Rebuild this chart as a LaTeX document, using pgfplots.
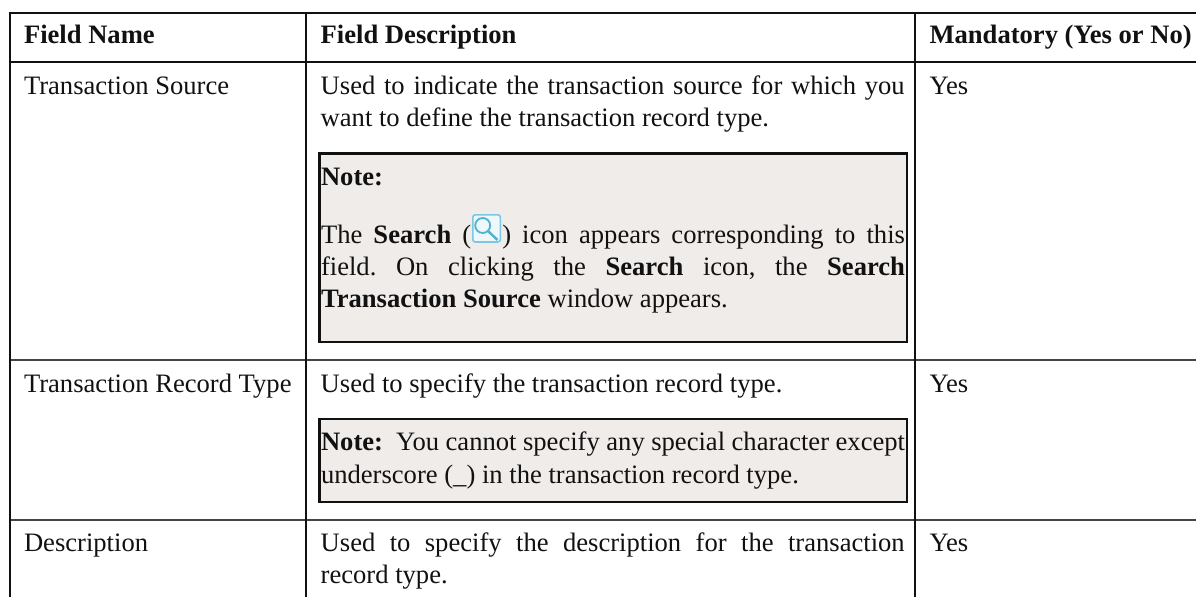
\documentclass[border=0pt]{standalone}
\usepackage{fontspec}
\setmainfont{Liberation Serif}
\usepackage{pgfplots}
\pgfplotsset{compat=1.18}
\definecolor{notebg}{HTML}{F0ECEA}
\definecolor{rule}{HTML}{111111}
\definecolor{rowrule}{HTML}{444444}
\definecolor{txt}{HTML}{111111}
\definecolor{iconb}{HTML}{7CC8E4}
\definecolor{iconf}{HTML}{EEF7FB}
\definecolor{iconm}{HTML}{4FB3D0}
\newcommand{\J}[1]{\makebox[584pt][s]{#1}}
\frenchspacing
\begin{document}
\begin{tikzpicture}
\path[use as bounding box] (0,0) rectangle (1196pt,597pt);
\begin{axis}[
  at={(0,0)}, anchor=south west,
  scale only axis, width=1196pt, height=597pt,
  xmin=0, xmax=1196, ymin=0, ymax=597, y dir=reverse,
  hide axis, clip=true,
  every axis plot/.append style={forget plot},
  nodes={font=\fontsize{26.6}{32}\selectfont, text=txt, inner sep=0pt, outer sep=0pt, anchor=base west},
]
% note boxes
\addplot[fill=notebg, draw=rule, line width=2.2pt] coordinates {(319.5,153.5) (907,153.5) (907,342) (319.5,342)} -- cycle;
\addplot[fill=notebg, draw=rule, line width=2.2pt] coordinates {(319.5,419) (907,419) (907,502) (319.5,502)} -- cycle;
% table rules
\addplot[draw=rule, line width=2pt] coordinates {(8.5,12.5) (1196,12.5)};
\addplot[draw=rule, line width=2pt] coordinates {(8.5,62) (1196,62)};
\addplot[draw=rowrule, line width=2pt] coordinates {(8.5,360) (1196,360)};
\addplot[draw=rowrule, line width=2pt] coordinates {(8.5,520) (1196,520)};
\addplot[draw=rule, line width=2pt] coordinates {(9.5,12) (9.5,597)};
\addplot[draw=rule, line width=2pt] coordinates {(306,12) (306,597)};
\addplot[draw=rule, line width=2pt] coordinates {(914.7,12) (914.7,597)};
% header
\node at (axis cs:24,43.5) {\textbf{Field Name}};
\node at (axis cs:320.7,43.5) {\textbf{Field Description}};
\node at (axis cs:929.5,43.5) {\textbf{Mandatory (Yes or No)}};
% row 1
\node at (axis cs:24,94) {Transaction Source};
\node at (axis cs:320.7,94) {\J{Used to indicate the transaction source for which you}};
\node at (axis cs:320.7,126) {want to define the transaction record type.};
\node at (axis cs:929.5,94) {Yes};
\node at (axis cs:321,185) {\textbf{Note:}};
\node at (axis cs:321,243) {\J{The \textbf{Search} (\hspace*{31pt}) icon appears corresponding to this}};
\node at (axis cs:321,275) {\J{field. On clicking the \textbf{Search} icon, the \textbf{Search}}};
\node at (axis cs:321,307) {\textbf{Transaction Source} window appears.};
% search icon
\draw[iconb, fill=iconf, line width=1.6pt, rounded corners=2.5pt] (axis cs:472.8,214.8) rectangle (axis cs:500.4,242);
\draw[iconm, line width=1.8pt] (axis cs:482.7,225.5) circle[radius=7.5pt];
\draw[iconm, line width=2.4pt] (axis cs:488,231) -- (axis cs:497.5,240);
% row 2
\node at (axis cs:24,392) {Transaction Record Type};
\node at (axis cs:320.7,392) {Used to specify the transaction record type.};
\node at (axis cs:929.5,392) {Yes};
\node at (axis cs:321,450) {\J{\textbf{Note:}\ \ You cannot specify any special character except}};
\node at (axis cs:321,483) {underscore (\_) in the transaction record type.};
% row 3
\node at (axis cs:24,551) {Description};
\node at (axis cs:320.7,551) {\J{Used to specify the description for the transaction}};
\node at (axis cs:320.7,583) {record type.};
\node at (axis cs:929.5,551) {Yes};
\end{axis}
\end{tikzpicture}
\end{document}
